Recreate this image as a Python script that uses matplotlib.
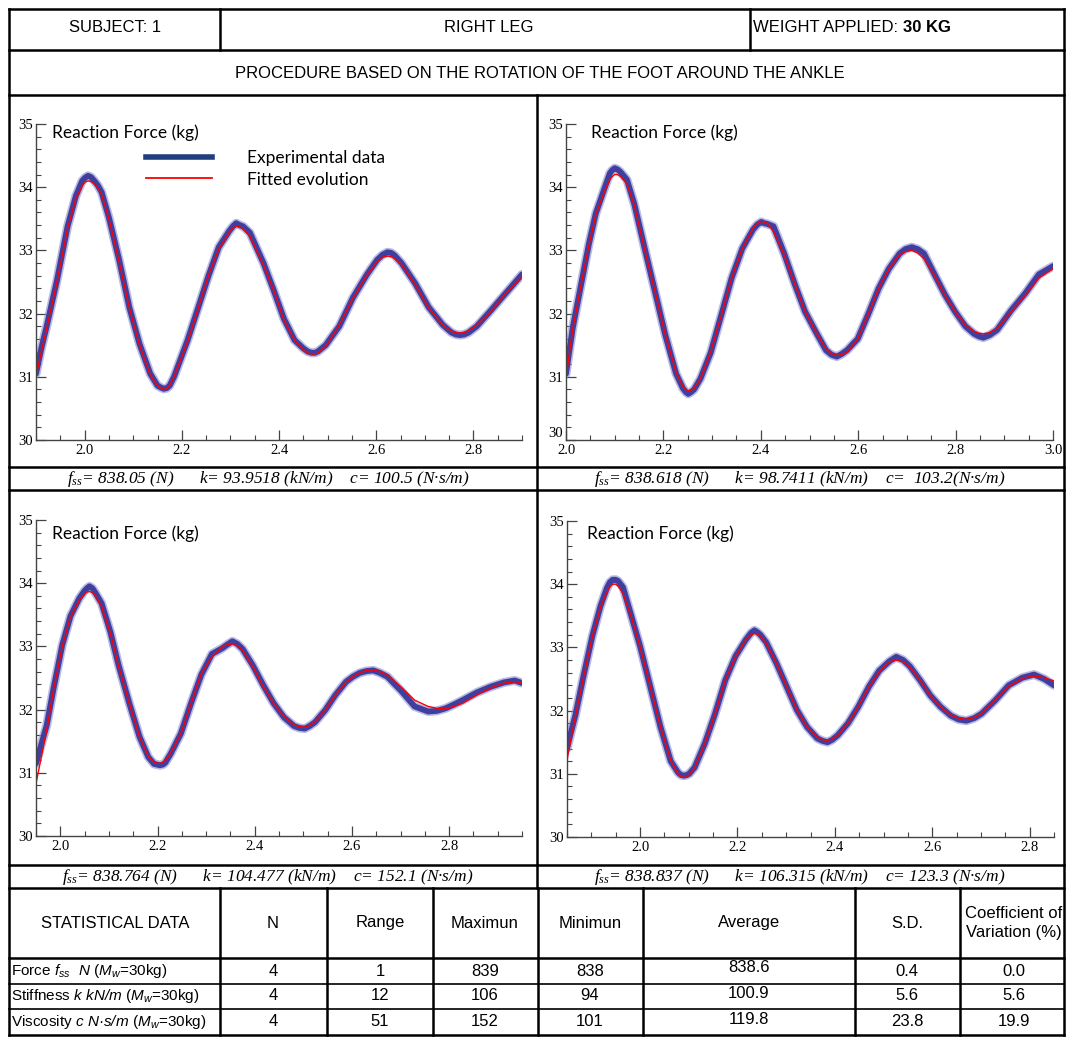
import matplotlib
matplotlib.use('Agg')
import matplotlib.pyplot as plt
import matplotlib.transforms as mtransforms
from matplotlib.lines import Line2D
from matplotlib.ticker import MultipleLocator, FormatStrFormatter, FuncFormatter

# ---- header / captions / table text ----
subject = "SUBJECT: 1"
leg_side = "RIGHT LEG"
weight_label = "WEIGHT APPLIED: "
weight_value = "30 KG"
procedure = "PROCEDURE BASED ON THE ROTATION OF THE FOOT AROUND THE ANKLE"

captions = [
    r"$f_{ss}$= 838.05 (N)      k= 93.9518 (kN/m)    c= 100.5 (N·s/m)",
    r"$f_{ss}$= 838.618 (N)      k= 98.7411 (kN/m)    c=  103.2(N·s/m)",
    r"$f_{ss}$= 838.764 (N)      k= 104.477 (kN/m)    c= 152.1 (N·s/m)",
    r"$f_{ss}$= 838.837 (N)      k= 106.315 (kN/m)    c= 123.3 (N·s/m)",
]

table_header = ["STATISTICAL DATA", "N", "Range", "Maximun", "Minimun",
                "Average", "S.D.", "Coefficient of\nVariation (%)"]
row_labels = [
    r"Force $\mathsf{f_{ss}}$  $\mathsf{N}$ ($\mathsf{M_w}$=30kg)",
    r"Stiffness $\mathsf{k}$ $\mathsf{kN/m}$ ($\mathsf{M_w}$=30kg)",
    r"Viscosity $\mathsf{c}$ $\mathsf{N·s/m}$ ($\mathsf{M_w}$=30kg)",
]
n_vals = ["4", "4", "4"]
range_vals = ["1", "12", "51"]
max_vals = ["839", "106", "152"]
min_vals = ["838", "94", "101"]
avg_vals = ["838.6", "100.9", "119.8"]
sd_vals = ["0.4", "5.6", "23.8"]
cv_vals = ["0.0", "5.6", "19.9"]

# ---- panel data: (time s, fitted kg, experimental kg) ----
p1 = [(1.900, 31.00, 31.05), (1.911, 31.40, 31.45), (1.922, 31.77, 31.80),
      (1.943, 32.50, 32.52), (1.965, 33.35, 33.38), (1.982, 33.82, 33.86),
      (1.995, 34.02, 34.10), (2.001, 34.08, 34.15), (2.007, 34.10, 34.18),
      (2.013, 34.09, 34.16), (2.020, 34.05, 34.10), (2.027, 33.99, 34.03),
      (2.035, 33.88, 33.92), (2.050, 33.50, 33.52), (2.071, 32.82, 32.85),
      (2.092, 32.09, 32.10), (2.113, 31.50, 31.52), (2.135, 31.03, 31.05),
      (2.150, 30.86, 30.86), (2.157, 30.82, 30.83), (2.163, 30.80, 30.81),
      (2.169, 30.81, 30.82), (2.175, 30.86, 30.86), (2.184, 31.00, 31.00),
      (2.212, 31.56, 31.58), (2.234, 32.09, 32.10), (2.255, 32.61, 32.60),
      (2.276, 33.02, 33.05), (2.297, 33.28, 33.30), (2.305, 33.35, 33.38),
      (2.312, 33.38, 33.43), (2.319, 33.37, 33.40), (2.326, 33.34, 33.38),
      (2.340, 33.22, 33.28), (2.368, 32.77, 32.80), (2.390, 32.35, 32.35),
      (2.410, 31.90, 31.92), (2.432, 31.58, 31.58), (2.450, 31.42, 31.45),
      (2.459, 31.38, 31.40), (2.467, 31.36, 31.38), (2.474, 31.36, 31.38),
      (2.480, 31.38, 31.40), (2.496, 31.48, 31.50), (2.524, 31.82, 31.80),
      (2.552, 32.24, 32.25), (2.581, 32.61, 32.62), (2.602, 32.82, 32.85),
      (2.613, 32.89, 32.93), (2.623, 32.91, 32.97), (2.631, 32.90, 32.96),
      (2.638, 32.87, 32.92), (2.652, 32.78, 32.80), (2.680, 32.46, 32.48),
      (2.708, 32.09, 32.10), (2.737, 31.82, 31.82), (2.755, 31.72, 31.70),
      (2.764, 31.70, 31.67), (2.772, 31.69, 31.66), (2.781, 31.70, 31.67),
      (2.790, 31.73, 31.70), (2.807, 31.82, 31.80), (2.836, 32.03, 32.05),
      (2.864, 32.30, 32.30), (2.900, 32.59, 32.62)]

p2 = [(2.000, 30.97, 31.05), (2.007, 31.38, 31.42), (2.014, 31.76, 31.78),
      (2.032, 32.50, 32.50), (2.047, 33.08, 33.10), (2.061, 33.56, 33.58),
      (2.079, 33.93, 33.98), (2.090, 34.12, 34.22), (2.095, 34.17, 34.27),
      (2.100, 34.20, 34.30), (2.106, 34.20, 34.28), (2.112, 34.17, 34.24),
      (2.125, 34.05, 34.12), (2.140, 33.72, 33.74), (2.161, 33.03, 33.05),
      (2.183, 32.34, 32.34), (2.204, 31.66, 31.66), (2.226, 31.07, 31.05),
      (2.240, 30.85, 30.82), (2.246, 30.80, 30.76), (2.251, 30.78, 30.73),
      (2.257, 30.79, 30.76), (2.263, 30.82, 30.80), (2.276, 30.97, 30.97),
      (2.297, 31.39, 31.38), (2.319, 31.98, 31.98), (2.340, 32.56, 32.56),
      (2.362, 33.03, 33.03), (2.384, 33.35, 33.33), (2.393, 33.43, 33.41),
      (2.401, 33.46, 33.45), (2.407, 33.45, 33.43), (2.413, 33.43, 33.42),
      (2.426, 33.30, 33.38), (2.448, 32.93, 32.95), (2.470, 32.46, 32.46),
      (2.491, 32.03, 32.03), (2.513, 31.71, 31.71), (2.534, 31.44, 31.42),
      (2.545, 31.37, 31.35), (2.556, 31.34, 31.32), (2.566, 31.35, 31.36),
      (2.577, 31.39, 31.42), (2.599, 31.60, 31.60), (2.620, 31.98, 31.98),
      (2.642, 32.40, 32.40), (2.663, 32.71, 32.71), (2.685, 32.93, 32.95),
      (2.697, 32.98, 33.02), (2.710, 33.00, 33.05), (2.722, 32.96, 33.02),
      (2.735, 32.87, 32.95), (2.756, 32.61, 32.63), (2.778, 32.29, 32.30),
      (2.799, 32.03, 32.03), (2.820, 31.82, 31.80), (2.838, 31.72, 31.68),
      (2.848, 31.69, 31.64), (2.857, 31.68, 31.62), (2.870, 31.70, 31.66),
      (2.885, 31.76, 31.74), (2.914, 32.03, 32.05), (2.943, 32.29, 32.32),
      (2.971, 32.56, 32.62), (3.000, 32.71, 32.75)]

p3 = [(1.950, 30.83, 31.15), (1.961, 31.25, 31.45), (1.972, 31.68, 31.75),
      (1.986, 32.31, 32.33), (2.004, 33.00, 33.02), (2.021, 33.47, 33.48),
      (2.039, 33.73, 33.76), (2.050, 33.83, 33.88), (2.055, 33.86, 33.92),
      (2.060, 33.87, 33.95), (2.066, 33.85, 33.92), (2.072, 33.80, 33.85),
      (2.085, 33.63, 33.68), (2.103, 33.21, 33.23), (2.120, 32.68, 32.70),
      (2.142, 32.10, 32.10), (2.163, 31.57, 31.57), (2.181, 31.26, 31.25),
      (2.193, 31.17, 31.14), (2.199, 31.15, 31.13), (2.205, 31.15, 31.12),
      (2.211, 31.16, 31.13), (2.216, 31.20, 31.16), (2.227, 31.31, 31.30),
      (2.248, 31.62, 31.62), (2.269, 32.10, 32.10), (2.290, 32.57, 32.55),
      (2.312, 32.84, 32.88), (2.333, 33.00, 32.97), (2.344, 33.03, 33.03),
      (2.354, 33.04, 33.08), (2.364, 33.01, 33.04), (2.375, 32.94, 32.96),
      (2.396, 32.68, 32.70), (2.418, 32.36, 32.38), (2.439, 32.10, 32.10),
      (2.460, 31.89, 31.88), (2.481, 31.76, 31.74), (2.492, 31.73, 31.71),
      (2.503, 31.72, 31.70), (2.513, 31.75, 31.74), (2.524, 31.81, 31.80),
      (2.545, 31.99, 31.99), (2.566, 32.23, 32.23), (2.588, 32.44, 32.44),
      (2.602, 32.52, 32.52), (2.616, 32.58, 32.58), (2.630, 32.62, 32.61),
      (2.644, 32.63, 32.62), (2.658, 32.60, 32.58), (2.673, 32.55, 32.52),
      (2.701, 32.36, 32.30), (2.729, 32.15, 32.05), (2.757, 32.05, 31.97),
      (2.775, 32.02, 31.98), (2.793, 32.01, 32.02), (2.810, 32.05, 32.08),
      (2.828, 32.10, 32.15), (2.857, 32.23, 32.27), (2.885, 32.34, 32.36),
      (2.913, 32.42, 32.43), (2.935, 32.44, 32.46), (2.950, 32.43, 32.42)]

p4 = [(1.850, 31.21, 31.40), (1.858, 31.55, 31.65), (1.867, 31.90, 31.92),
      (1.884, 32.53, 32.55), (1.902, 33.17, 33.18), (1.919, 33.64, 33.66),
      (1.932, 33.88, 33.94), (1.938, 33.96, 34.03), (1.944, 34.00, 34.07),
      (1.950, 34.00, 34.07), (1.955, 33.97, 34.05), (1.965, 33.85, 33.95),
      (1.982, 33.48, 33.50), (2.000, 33.01, 33.02), (2.021, 32.38, 32.38),
      (2.042, 31.74, 31.74), (2.063, 31.21, 31.20), (2.078, 31.00, 31.02),
      (2.084, 30.96, 30.98), (2.090, 30.94, 30.97), (2.096, 30.95, 30.98),
      (2.101, 30.98, 31.00), (2.112, 31.10, 31.10), (2.133, 31.48, 31.48),
      (2.154, 31.95, 31.95), (2.175, 32.48, 32.48), (2.196, 32.85, 32.86),
      (2.217, 33.12, 33.12), (2.228, 33.20, 33.23), (2.235, 33.22, 33.27),
      (2.241, 33.21, 33.24), (2.247, 33.18, 33.20), (2.259, 33.06, 33.08),
      (2.280, 32.75, 32.75), (2.301, 32.38, 32.38), (2.322, 32.01, 32.01),
      (2.343, 31.74, 31.74), (2.364, 31.58, 31.56), (2.375, 31.54, 31.52),
      (2.385, 31.53, 31.50), (2.395, 31.55, 31.54), (2.406, 31.61, 31.61),
      (2.427, 31.80, 31.80), (2.448, 32.06, 32.06), (2.470, 32.38, 32.38),
      (2.491, 32.61, 32.63), (2.512, 32.77, 32.78), (2.526, 32.80, 32.85),
      (2.540, 32.77, 32.80), (2.554, 32.69, 32.70), (2.575, 32.48, 32.48),
      (2.596, 32.24, 32.24), (2.617, 32.06, 32.06), (2.638, 31.93, 31.92),
      (2.654, 31.88, 31.86), (2.670, 31.86, 31.84), (2.686, 31.89, 31.88),
      (2.701, 31.95, 31.95), (2.729, 32.16, 32.16), (2.757, 32.38, 32.40),
      (2.785, 32.51, 32.52), (2.809, 32.55, 32.57), (2.830, 32.52, 32.50),
      (2.850, 32.47, 32.40)]

panels = [p1, p2, p3, p4]
xlims = [(1.9, 2.9), (2.0, 3.0), (1.95, 2.95), (1.85, 2.85)]

# ---- figure ----
W, H = 1067, 1037
plt.rcParams['mathtext.fontset'] = 'custom'
plt.rcParams['mathtext.it'] = 'Liberation Serif:italic'
plt.rcParams['mathtext.rm'] = 'Liberation Serif'
plt.rcParams['mathtext.sf'] = 'Liberation Sans:italic'

SANS = ['Liberation Sans']
SERIF = ['Liberation Serif']
LABEL = ['Lato', 'DejaVu Sans']

fig = plt.figure(figsize=(W / 100, H / 100), dpi=100)
fig.patch.set_facecolor('white')


def fx(x):
    return x / W


def fy(y):
    return 1 - y / H


def hline(y, x0, x1, lw=1.8, color='black'):
    fig.add_artist(Line2D([fx(x0), fx(x1)], [fy(y), fy(y)], lw=lw, color=color))


def vline(x, y0, y1, lw=1.8, color='black'):
    fig.add_artist(Line2D([fx(x), fx(x)], [fy(y0), fy(y1)], lw=lw, color=color))


def label(x, y, s, size=12, family=SANS, **kw):
    kw.setdefault('ha', 'center')
    kw.setdefault('va', 'center')
    return fig.text(fx(x), fy(y), s, fontsize=size, family=family, **kw)


L, R = 9, 1064
# outer box and horizontal rules
for y in [9, 50, 95, 467, 490, 865, 888, 958, 1035]:
    hline(y, L, R)
hline(984, L, R, lw=1.2)
hline(1009, L, R, lw=1.2)
vline(L, 9, 1035)
vline(R, 9, 1035)
vline(220, 9, 50)
vline(750, 9, 50)
vline(537, 95, 888)
for x in [220, 327, 433, 538, 643, 855, 960]:
    vline(x, 888, 1035)

# header
label(115, 28, subject)
label(489, 28, leg_side)
t = label(753, 28, weight_label, ha='left')
r = fig.canvas.get_renderer()
bb = t.get_window_extent(renderer=r)
fig.text(bb.x1 / W, fy(28), weight_value, fontsize=12, family=SANS,
         fontweight='bold', ha='left', va='center')
label(540, 73, procedure)

# plots
axes_px = [(36, 522, 124, 440), (566, 1053, 124, 440),
           (36, 522, 520, 836), (567, 1054, 521, 837)]
title_px = [(52, 133), (591, 133), (52, 534), (587, 534)]
for i, (x0, x1, y0, y1) in enumerate(axes_px):
    ax = fig.add_axes([fx(x0), fy(y1), (x1 - x0) / W, (y1 - y0) / H])
    t, fit, exp = zip(*panels[i])
    ax.plot(t, exp, color='#8c8cd2', lw=6.5, solid_capstyle='round',
            solid_joinstyle='round', alpha=0.6)
    ax.plot(t, exp, color='#3f3f9f', lw=4.2, solid_capstyle='round',
            solid_joinstyle='round')
    ax.plot(t, fit, color='red', lw=1.0)
    ax.set_xlim(*xlims[i])
    ax.set_ylim(30, 35)
    ax.set_facecolor('none')
    for s in ['top', 'right']:
        ax.spines[s].set_visible(False)
    for s in ['left', 'bottom']:
        ax.spines[s].set_color('#444444')
        ax.spines[s].set_linewidth(1.0)
    ax.xaxis.set_major_locator(MultipleLocator(0.2))
    ax.xaxis.set_minor_locator(MultipleLocator(0.05))
    ax.yaxis.set_major_locator(MultipleLocator(1))
    ax.yaxis.set_minor_locator(MultipleLocator(0.2))
    ax.xaxis.set_major_formatter(FormatStrFormatter('%.1f'))
    ax.tick_params(which='both', direction='in', color='#444444', pad=3)
    ax.tick_params(which='major', length=7, width=0.9)
    ax.tick_params(which='minor', length=3.5, width=0.8)
    for lab in ax.get_xticklabels() + ax.get_yticklabels():
        lab.set_family(SERIF)
        lab.set_fontsize(10.5)
    ax.tick_params(axis='y', pad=2)
    if i == 1:
        # axes start at 2.0 here: draw the "30" label a little higher,
        # clear of the "2.0" label below it
        ax.yaxis.set_major_formatter(
            FuncFormatter(lambda v, pos: '' if v == 30 else '%d' % v))
        trans = mtransforms.blended_transform_factory(ax.transAxes, ax.transData)
        ax.text(-0.006, 30, '30', transform=trans, ha='right', va='bottom',
                family=SERIF, fontsize=10.5)
    tx, ty = title_px[i]
    fig.text(fx(tx), fy(ty), "Reaction Force (kg)", fontsize=12.5, family=LABEL,
             ha='left', va='center')
    if i == 0:
        handles = [Line2D([], [], color='#1f3f7f', lw=4),
                   Line2D([], [], color='red', lw=1.3)]
        ax.legend(handles, ['Experimental data', 'Fitted evolution'],
                  loc='upper left', bbox_to_anchor=(fx(146), fy(150)),
                  bbox_transform=fig.transFigure, frameon=False,
                  prop={'family': LABEL, 'size': 12.5}, handlelength=3.8,
                  handletextpad=2.0, labelspacing=0.32, borderpad=0,
                  borderaxespad=0)

# captions
cap_px = [(268, 479), (800, 479), (268, 877), (800, 877)]
for (cx, cy), s in zip(cap_px, captions):
    label(cx, cy, s, size=12.5, family=SERIF, style='italic')

# statistics table
col_centers = [115, 273, 380, 485, 590, 749, 907, 1014]
for cx, s in zip(col_centers, table_header):
    label(cx, 923, s, linespacing=1.25)
row_y = [971, 996, 1022]
for j, y in enumerate(row_y):
    label(11, y, row_labels[j], size=11, ha='left')
    vals = [n_vals[j], range_vals[j], max_vals[j], min_vals[j],
            avg_vals[j], sd_vals[j], cv_vals[j]]
    for cx, v in zip(col_centers[1:], vals):
        yy = y - 3 if cx == 749 else y
        label(cx, yy, v)

fig.savefig('out.png', dpi=100, facecolor='white')
